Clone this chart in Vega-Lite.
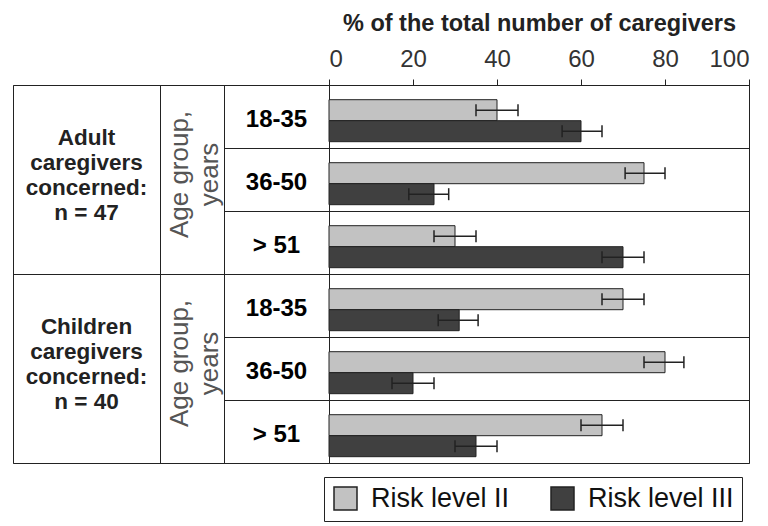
{
  "$schema": "https://vega.github.io/schema/vega-lite/v6.json",
  "padding": {"top": 10, "left": 12, "right": 0, "bottom": 0},
  "background": "white",
  "bounds": "flush",
  "spacing": 0,
  "config": {
    "font": "Liberation Sans",
    "view": {"stroke": "#222", "strokeWidth": 1},
    "axis": {"minExtent": 0, "maxExtent": 200}
  },
  "datasets": {
    "groups": [
      {"group": "Adult", "label": "Adult\ncaregivers\nconcerned:\nn = 47", "axisLabel": "Age group,\nyears"},
      {"group": "Children", "label": "Children\ncaregivers\nconcerned:\nn = 40", "axisLabel": "Age group,\nyears"}
    ],
    "rows": [
      {"row": "Adult 18-35", "age": "18-35"},
      {"row": "Adult 36-50", "age": "36-50"},
      {"row": "Adult >51", "age": "> 51"},
      {"row": "Children 18-35", "age": "18-35"},
      {"row": "Children 36-50", "age": "36-50"},
      {"row": "Children >51", "age": "> 51"}
    ],
    "bars": [
      {"row": "Adult 18-35", "risk": "Risk level II", "value": 40, "low": 35, "high": 45},
      {"row": "Adult 18-35", "risk": "Risk level III", "value": 60, "low": 55.5, "high": 65},
      {"row": "Adult 36-50", "risk": "Risk level II", "value": 75, "low": 70.5, "high": 80},
      {"row": "Adult 36-50", "risk": "Risk level III", "value": 25, "low": 19, "high": 28.5},
      {"row": "Adult >51", "risk": "Risk level II", "value": 30, "low": 25, "high": 35},
      {"row": "Adult >51", "risk": "Risk level III", "value": 70, "low": 65, "high": 75},
      {"row": "Children 18-35", "risk": "Risk level II", "value": 70, "low": 65, "high": 75},
      {"row": "Children 18-35", "risk": "Risk level III", "value": 31, "low": 26, "high": 35.5},
      {"row": "Children 36-50", "risk": "Risk level II", "value": 80, "low": 75, "high": 84.5},
      {"row": "Children 36-50", "risk": "Risk level III", "value": 20, "low": 15, "high": 25},
      {"row": "Children >51", "risk": "Risk level II", "value": 65, "low": 60, "high": 70},
      {"row": "Children >51", "risk": "Risk level III", "value": 35, "low": 30, "high": 40}
    ]
  },
  "hconcat": [
    {
      "width": 147,
      "height": 378,
      "data": {"name": "groups"},
      "mark": {"type": "text", "lineBreak": "\n", "lineHeight": 25, "fontSize": 22.5, "fontWeight": "bold", "fill": "#222", "dy": -42, "baseline": "middle", "align": "center"},
      "encoding": {
        "y": {"field": "group", "type": "nominal", "scale": {"domain": ["Adult", "Children"], "paddingInner": 0, "paddingOuter": 0},
              "axis": {"grid": true, "tickBand": "extent", "labels": false, "ticks": false, "domain": false, "title": null, "gridColor": "#222", "gridOpacity": 1}},
        "text": {"field": "label"}
      }
    },
    {
      "width": 64,
      "height": 378,
      "data": {"name": "groups"},
      "mark": {"type": "text", "lineBreak": "\n", "lineHeight": 30, "fontSize": 26, "fill": "#555", "angle": 270, "dy": -12, "dx": 5, "baseline": "middle", "align": "center"},
      "encoding": {
        "y": {"field": "group", "type": "nominal", "scale": {"domain": ["Adult", "Children"], "paddingInner": 0, "paddingOuter": 0},
              "axis": {"grid": true, "tickBand": "extent", "labels": false, "ticks": false, "domain": false, "title": null, "gridColor": "#222", "gridOpacity": 1}},
        "text": {"field": "axisLabel"}
      }
    },
    {
      "width": 105,
      "height": 378,
      "data": {"name": "rows"},
      "mark": {"type": "text", "fontSize": 24, "fontWeight": "bold", "fill": "#000", "dy": 3, "baseline": "middle", "align": "center"},
      "encoding": {
        "y": {"field": "row", "type": "nominal", "sort": null, "scale": {"paddingInner": 0, "paddingOuter": 0},
              "axis": {"grid": true, "tickBand": "extent", "labels": false, "ticks": false, "domain": false, "title": null, "gridColor": "#222", "gridOpacity": 1}},
        "text": {"field": "age"}
      }
    },
    {
      "width": 420,
      "height": 378,
      "data": {"name": "bars"},
      "encoding": {
        "y": {"field": "row", "type": "nominal", "sort": null, "scale": {"paddingInner": 0, "paddingOuter": 0},
              "axis": {"grid": true, "tickBand": "extent", "labels": false, "ticks": false, "domain": false, "title": null, "gridColor": "#222", "gridOpacity": 1}},
        "yOffset": {"field": "risk", "type": "nominal", "scale": {"domain": ["Risk level II", "Risk level III"], "paddingInner": 0, "paddingOuter": 0.5, "align": 0.7}}
      },
      "layer": [
        {
          "mark": {"type": "bar", "stroke": "#222", "strokeWidth": 1},
          "encoding": {
            "x": {"field": "value", "type": "quantitative", "title": "% of the total number of caregivers",
                  "scale": {"domain": [0, 100], "nice": false},
                  "axis": {"orient": "top", "values": [0, 20, 40, 60, 80, 100], "grid": false, "tickSize": 6, "tickColor": "#222", "domainColor": "#222",
                           "labelFontSize": 24, "labelColor": "#333", "labelPadding": 8, "labelFont": "Liberation Sans",
                           "titleFontSize": 23.5, "titleFontWeight": "bold", "titleColor": "#222", "titlePadding": 12, "titleFont": "Liberation Sans"}},
            "color": {"field": "risk", "type": "nominal", "scale": {"domain": ["Risk level II", "Risk level III"], "range": ["#c2c2c2", "#404040"]},
                      "legend": {"orient": "none", "legendX": 311, "legendY": 392, "direction": "horizontal", "title": null,
                                 "strokeColor": "#222", "padding": 8, "symbolType": "square", "symbolSize": 529,
                                 "symbolStrokeColor": "#222", "symbolStrokeWidth": 1.5, "symbolOpacity": 1,
                                 "labelFontSize": 27, "labelColor": "#111", "labelOffset": 12, "columnPadding": 38, "labelFont": "Liberation Sans"}}
          }
        },
        {
          "mark": {"type": "rule", "stroke": "#222", "strokeWidth": 1.5},
          "encoding": {
            "x": {"field": "low", "type": "quantitative", "title": "% of the total number of caregivers"},
            "x2": {"field": "high"}
          }
        },
        {
          "mark": {"type": "tick", "color": "#222", "thickness": 1.5, "size": 12, "opacity": 1},
          "encoding": {"x": {"field": "low", "type": "quantitative", "title": "% of the total number of caregivers"}}
        },
        {
          "mark": {"type": "tick", "color": "#222", "thickness": 1.5, "size": 12, "opacity": 1},
          "encoding": {"x": {"field": "high", "type": "quantitative", "title": "% of the total number of caregivers"}}
        }
      ]
    }
  ]
}
